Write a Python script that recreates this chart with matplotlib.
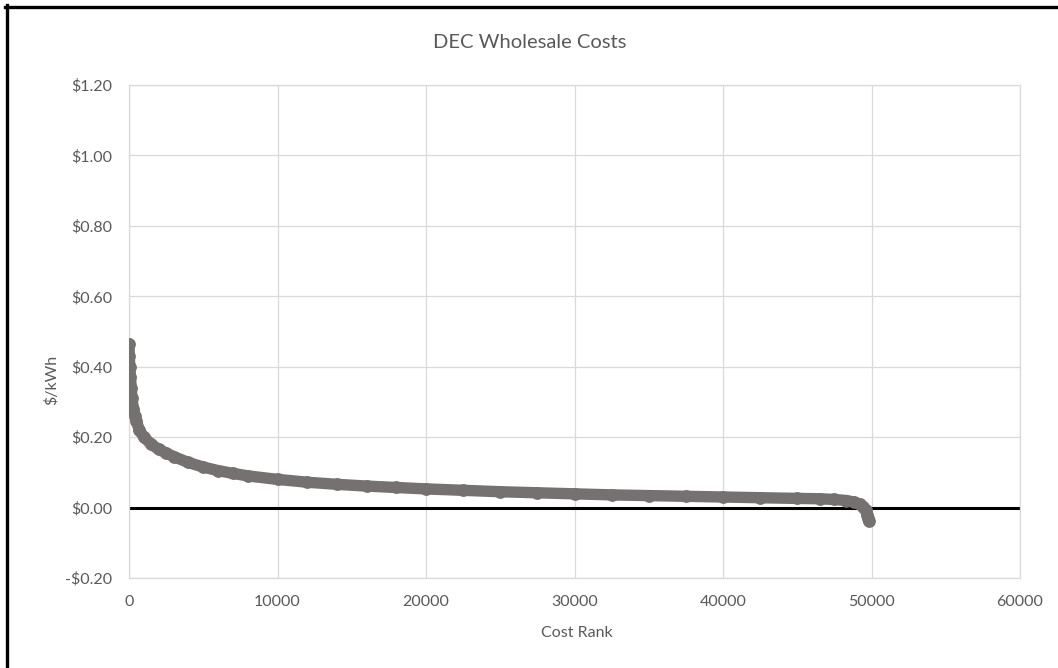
import matplotlib
matplotlib.use("Agg")
import matplotlib.pyplot as plt
from matplotlib.lines import Line2D

# ---- data ----
cost_rank = [0, 20, 50, 100, 150, 200, 300, 400, 500, 700, 1000, 1500, 2000,
             2500, 3000, 4000, 5000, 6000, 7000, 8000, 10000, 12000, 14000,
             16000, 18000, 20000, 22500, 25000, 27500, 30000, 32500, 35000,
             37500, 40000, 42500, 45000, 46500, 47500, 48300, 48800, 49200,
             49450, 49600, 49700, 49760, 49800]
cost_kwh = [0.465, 0.43, 0.40, 0.37, 0.34, 0.31, 0.28, 0.26, 0.245, 0.22,
            0.20, 0.18, 0.165, 0.155, 0.145, 0.128, 0.115, 0.105, 0.097,
            0.090, 0.080, 0.072, 0.066, 0.061, 0.057, 0.053, 0.049, 0.045,
            0.042, 0.039, 0.036, 0.034, 0.032, 0.030, 0.028, 0.026, 0.025,
            0.023, 0.020, 0.016, 0.010, 0.003, -0.008, -0.020, -0.030, -0.037]
x_ticks = [0, 10000, 20000, 30000, 40000, 50000, 60000]
y_ticks = [-0.20, 0.00, 0.20, 0.40, 0.60, 0.80, 1.00, 1.20]
y_tick_labels = ["-$0.20", "$0.00", "$0.20", "$0.40", "$0.60", "$0.80", "$1.00", "$1.20"]
title = "DEC Wholesale Costs"
x_label = "Cost Rank"
y_label = "$/kWh"

plt.rcParams['font.family'] = ['Lato', 'DejaVu Sans']
txt = '#595959'
grid = '#d9d9d9'
mark = '#767171'

W, H = 1058, 668
fig = plt.figure(figsize=(W / 100, H / 100), dpi=100)
ax = fig.add_axes([129 / W, 1 - 578 / H, (1020 - 129) / W, (578 - 85) / H])

ax.set_xlim(0, 60000)
ax.set_ylim(-0.20, 1.20)
ax.set_xticks(x_ticks)
ax.set_xticklabels([str(v) for v in x_ticks])
ax.set_yticks(y_ticks)
ax.set_yticklabels(y_tick_labels)
ax.grid(True, color=grid, lw=0.9)
ax.set_axisbelow(True)
for s in ax.spines.values():
    s.set_color(grid)
    s.set_linewidth(0.9)
ax.tick_params(length=0, labelsize=11.5, labelcolor=txt)
ax.tick_params(axis='x', pad=12)
ax.tick_params(axis='y', pad=12)

ax.axhline(0, color='black', lw=2.2, zorder=2)
ax.plot(cost_rank, cost_kwh, color=mark, lw=8.2, solid_capstyle='round',
        solid_joinstyle='round', zorder=3)
ax.plot(cost_rank, cost_kwh, 'o', color=mark, ms=8.2, mec=mark, zorder=3)

fig.text(530 / W, 1 - 42 / H, title, ha='center', va='center', fontsize=14.5, color=txt)
fig.text(577 / W, 1 - 633 / H, x_label, ha='center', va='center', fontsize=11.5, color=txt)
fig.text(52 / W, 1 - 380 / H, y_label, ha='center', va='center', fontsize=11.5,
         color=txt, rotation=90)

# outer black frame (top and left edges visible)
fig.add_artist(Line2D([5 / W, 1], [1 - 6.5 / H, 1 - 6.5 / H], transform=fig.transFigure,
                      color='black', lw=2.4))
fig.add_artist(Line2D([6.5 / W, 6.5 / W], [0, 1 - 5 / H], transform=fig.transFigure,
                      color='black', lw=2.4))

fig.savefig('out.png', dpi=100)
